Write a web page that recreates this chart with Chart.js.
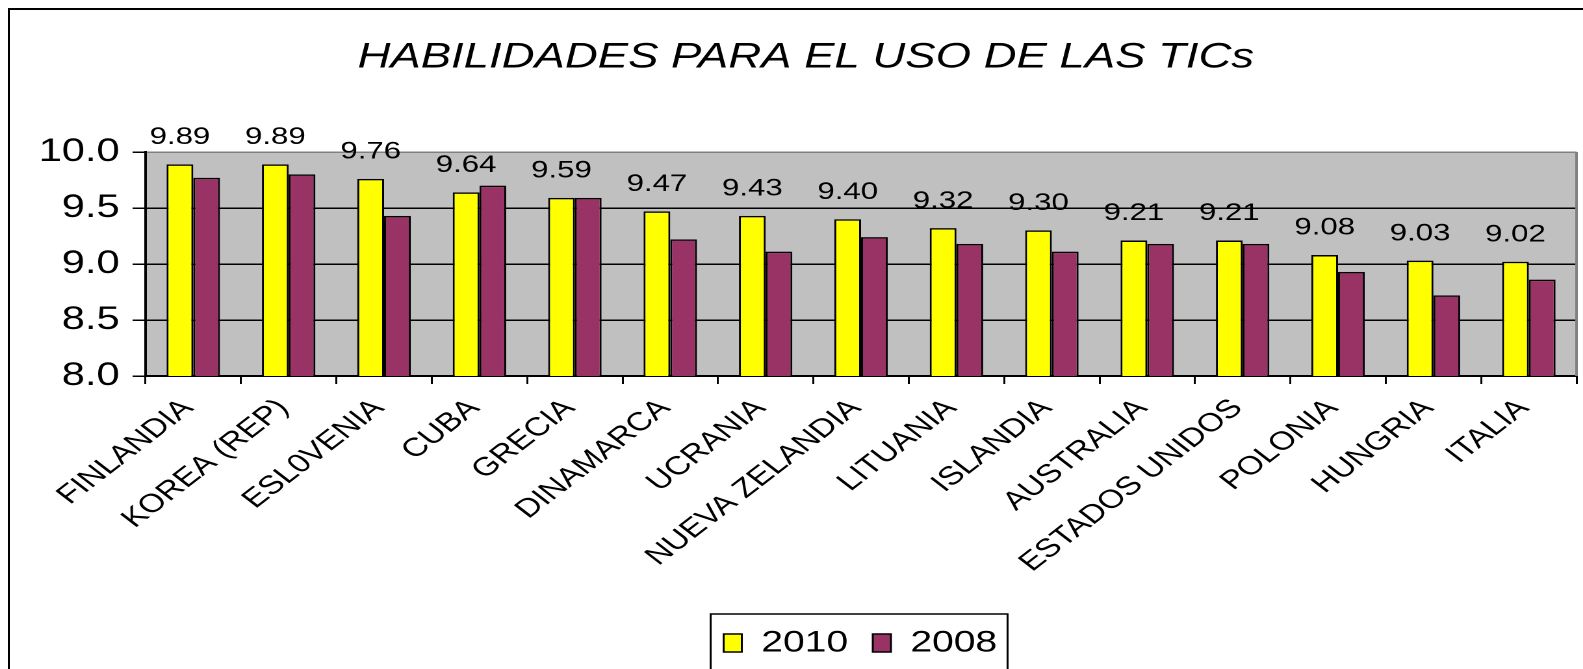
<!DOCTYPE html>
<html>
<head>
<meta charset="utf-8">
<script src="https://cdn.jsdelivr.net/npm/chart.js@4.4.0/dist/chart.umd.min.js"></script>
<style>
html, body { margin: 0; padding: 0; background: #fff; overflow: hidden; }
/* el gráfico original está estirado en horizontal */
#wrap { position: absolute; left: 0; top: 0; width: 1218px; height: 669px; transform: scaleX(1.2997); transform-origin: 0 0; }
#marco { position: absolute; left: 8px; top: 8px; width: 1700px; height: 800px; border-top: 2px solid #000; border-left: 2px solid #000; pointer-events: none; }
</style>
</head>
<body>
<div id="wrap"><canvas id="grafico"></canvas></div>
<div id="marco"></div>
<script>
const paises = ['FINLANDIA', 'KOREA (REP)', 'ESL0VENIA', 'CUBA', 'GRECIA', 'DINAMARCA', 'UCRANIA', 'NUEVA ZELANDIA',
    'LITUANIA', 'ISLANDIA', 'AUSTRALIA', 'ESTADOS UNIDOS', 'POLONIA', 'HUNGRIA', 'ITALIA'];
const valores2010 = [9.89, 9.89, 9.76, 9.64, 9.59, 9.47, 9.43, 9.40, 9.32, 9.30, 9.21, 9.21, 9.08, 9.03, 9.02];
const valores2008 = [9.77, 9.80, 9.43, 9.70, 9.59, 9.22, 9.11, 9.24, 9.18, 9.11, 9.18, 9.18, 8.93, 8.72, 8.86];
const titulo = 'HABILIDADES PARA EL USO DE LAS TICs';

Chart.defaults.font.family = "'Liberation Sans', Arial, sans-serif";
Chart.defaults.color = '#000';

// fondo gris, borde derecho, etiquetas de 2010 y marco de la leyenda
const extras = {
    id: 'extras',
    beforeDraw(chart) {
        const a = chart.chartArea, ctx = chart.ctx;
        ctx.save();
        ctx.fillStyle = '#C0C0C0';
        ctx.fillRect(a.left, a.top, a.right - a.left, a.bottom - a.top);
        ctx.restore();
    },
    beforeDatasetsDraw(chart) {
        const a = chart.chartArea, ctx = chart.ctx;
        ctx.save();
        ctx.strokeStyle = '#808080';
        ctx.lineWidth = 2;
        ctx.beginPath();
        ctx.moveTo(a.right, a.top);
        ctx.lineTo(a.right, a.bottom);
        ctx.stroke();
        ctx.restore();
    },
    afterDatasetsDraw(chart) {
        const ctx = chart.ctx;
        const meta = chart.getDatasetMeta(0);
        ctx.save();
        ctx.font = "24px 'Liberation Sans', Arial, sans-serif";
        ctx.fillStyle = '#000';
        ctx.textAlign = 'center';
        ctx.textBaseline = 'middle';
        meta.data.forEach((bar, i) => {
            ctx.fillText(valores2010[i].toFixed(2), bar.x, bar.y - 27);
        });
        ctx.restore();
    },
    afterLayout(chart) {
        chart.legend.left += 42;
        chart.legend.right += 42;
    },
    afterDraw(chart) {
        const hb = chart.legend.legendHitBoxes;
        if (!hb || !hb.length) return;
        const last = hb[hb.length - 1];
        const ctx = chart.ctx;
        ctx.save();
        ctx.strokeStyle = '#000';
        ctx.lineWidth = 1.5;
        const x1 = hb[0].left - 10, x2 = last.left + last.width + 8;
        ctx.strokeRect(x1, hb[0].top - 14, x2 - x1, 57);
        ctx.restore();
    }
};

new Chart(document.getElementById('grafico'), {
    type: 'bar',
    data: {
        labels: paises,
        datasets: [
            { label: '2010', data: valores2010, backgroundColor: '#FFFF00', borderColor: '#000', borderWidth: 1.5,
              categoryPercentage: 0.56, barPercentage: 1.0 },
            { label: '2008', data: valores2008, backgroundColor: '#993366', borderColor: '#000', borderWidth: 1.5,
              categoryPercentage: 0.56, barPercentage: 1.0 }
        ]
    },
    options: {
        responsive: true,
        maintainAspectRatio: false,
        animation: false,
        devicePixelRatio: 2,
        layout: { padding: { top: 10, left: 27, right: 5, bottom: 1 } },
        plugins: {
            title: {
                display: true, text: titulo, color: '#000',
                font: { size: 35, style: 'italic', weight: 'normal' },
                padding: { top: 27, bottom: 73 }
            },
            legend: {
                position: 'bottom',
                labels: { boxWidth: 14, boxHeight: 18, padding: 19, font: { size: 30 }, color: '#000' }
            },
            tooltip: { enabled: false }
        },
        scales: {
            x: {
                afterFit: s => { s.height = 233; },
                grid: { drawOnChartArea: false, drawTicks: true, tickLength: 8, color: '#000', lineWidth: 1.5 },
                border: { color: '#000', width: 2 },
                ticks: { autoSkip: false, minRotation: 45, maxRotation: 45, padding: 9, labelOffset: -4,
                    font: { size: 26 }, color: '#000' }
            },
            y: {
                min: 8, max: 10,
                afterFit: s => { s.width = 85; },
                grid: {
                    color: c => (c.tick && c.tick.value === 10) ? '#808080' : '#000',
                    tickColor: '#000', lineWidth: 1.5, tickLength: 10
                },
                border: { color: '#000', width: 2 },
                ticks: { stepSize: 0.5, padding: 10, font: { size: 32 }, color: '#000',
                    callback: v => v.toFixed(1) }
            }
        }
    },
    plugins: [extras]
});
</script>
</body>
</html>
